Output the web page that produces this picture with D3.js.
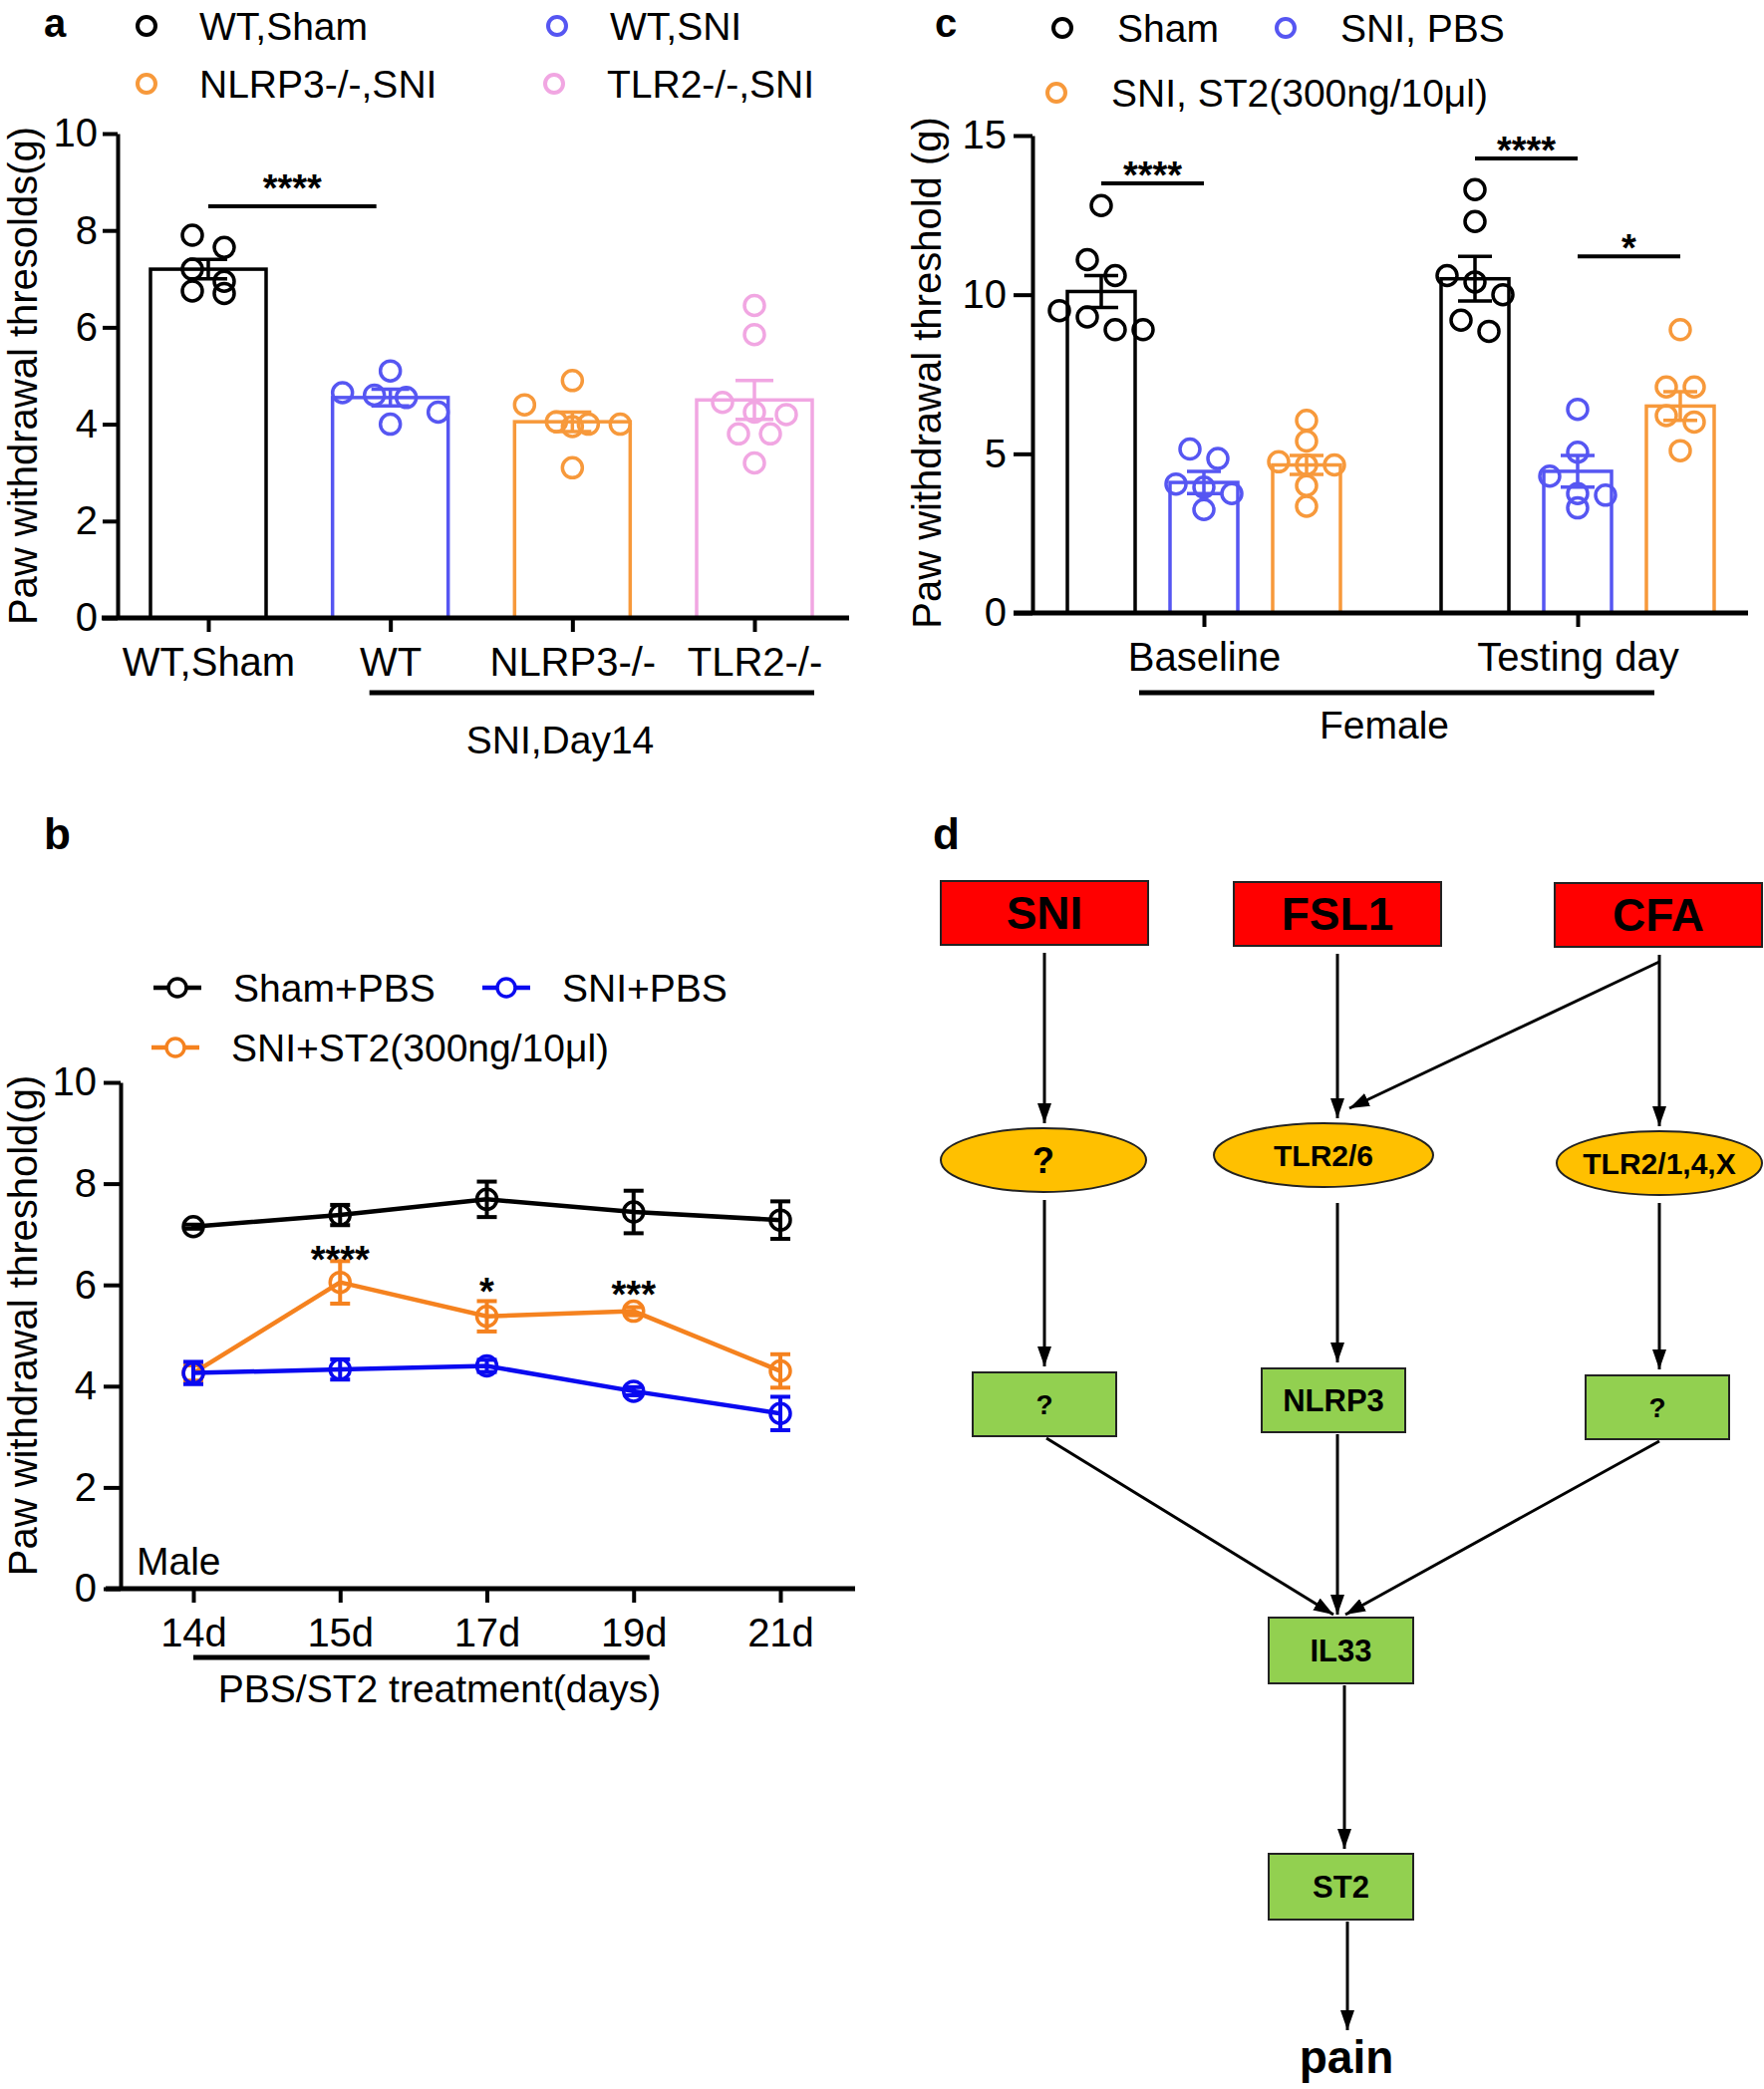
<!DOCTYPE html>
<html><head><meta charset="utf-8">
<script src="https://cdn.jsdelivr.net/npm/d3@7"></script>
<style>body{margin:0;background:#fff} svg{display:block}</style>
</head><body><svg id="fig" width="1770" height="2096"></svg>
<script>
// ---------------- DATA ----------------
// Panel a
const aCategories = ["WT,Sham","WT","NLRP3-/-","TLR2-/-"];
const aLegend = ["WT,Sham","WT,SNI","NLRP3-/-,SNI","TLR2-/-,SNI"];
const aMeans = [7.2, 4.55, 4.05, 4.5];
const aSEM = [0.2, 0.17, 0.2, 0.4];
const aPoints = [
  [7.9, 7.65, 7.2, 6.7, 6.95, 6.75],
  [5.1, 4.55, 4.65, 4.6, 4.0, 4.25],
  [4.9, 4.05, 4.0, 4.0, 4.4, 3.95, 3.1],
  [6.45, 5.85, 4.45, 4.25, 4.2, 3.8, 3.8, 3.2]
];
const aYTicks = [0, 2, 4, 6, 8, 10];
const aSig = [{from: "WT,Sham", to: "WT", level: 8.5, label: "****"}];

// Panel b
const bDays = ["14d","15d","17d","19d","21d"];
const bSeries = ["Sham+PBS","SNI+PBS","SNI+ST2(300ng/10μl)"];
const bSham = [7.15, 7.38, 7.69, 7.44, 7.28];
const bShamSEM = [0.04, 0.2, 0.35, 0.42, 0.37];
const bPBS = [4.26, 4.33, 4.4, 3.9, 3.46];
const bPBSSEM = [0.22, 0.2, 0.12, 0.08, 0.33];
const bST2 = [4.26, 6.05, 5.38, 5.48, 4.3];
const bST2SEM = [0.15, 0.42, 0.3, 0.08, 0.33];
const bYTicks = [0, 2, 4, 6, 8, 10];
const bSigLabels = ["", "****", "*", "***", ""];
const bSigLevels = [null, 6.67, 6.04, 5.98, null];

// Panel c
const cGroups = ["Baseline","Testing day"];
const cSeries = ["Sham","SNI, PBS","SNI, ST2(300ng/10μl)"];
const cMeans = [[10.1, 4.1, 4.65], [10.5, 4.45, 6.5]];
const cSEM = [[0.5, 0.35, 0.3], [0.7, 0.5, 0.45]];
const cPoints = [
  [[12.8, 11.1, 10.6, 9.5, 9.3, 8.9, 8.9],
   [5.15, 4.85, 4.05, 3.95, 3.75, 3.25],
   [6.05, 5.4, 4.75, 4.65, 4.65, 4.0, 3.35]],
  [[13.3, 12.3, 10.6, 10.4, 10.0, 9.2, 8.85],
   [6.4, 5.05, 4.3, 3.75, 3.7, 3.3],
   [8.9, 7.1, 7.1, 6.2, 6.0, 5.1]]
];
const cYTicks = [0, 5, 10, 15];
const cSig = [
  {group: "Baseline", from: "Sham", to: "SNI, PBS", level: 13.5, label: "****"},
  {group: "Testing day", from: "Sham", to: "SNI, PBS", level: 14.28, label: "****"},
  {group: "Testing day", from: "SNI, PBS", to: "SNI, ST2(300ng/10μl)", level: 11.2, label: "*"}
];

// Panel d
const dSources = ["SNI","FSL1","CFA"];
const dReceptors = ["?","TLR2/6","TLR2/1,4,X"];
const dMediators = ["?","NLRP3","?"];
const dPathway = ["IL33","ST2","pain"];

// ---------------- DRAW ----------------
const FONT = '"Liberation Sans", Arial, Helvetica, sans-serif';
const svg = d3.select("#fig");
svg.append("rect").attr("width",1770).attr("height",2096).attr("fill","#fff");

function txt(g, x, y, s, size, o = {}) {
  return g.append("text").attr("x", x).attr("y", y).text(s)
    .attr("font-size", size).attr("font-family", FONT)
    .attr("font-weight", o.bold ? "bold" : "normal")
    .attr("text-anchor", o.anchor || "start").attr("fill", o.fill || "#000");
}
function styleAxis(g) {
  g.select(".domain").attr("stroke", "#000").attr("stroke-width", 4);
  g.selectAll(".tick line").attr("stroke", "#000").attr("stroke-width", 4);
  g.selectAll(".tick text").attr("font-size", 40).attr("font-family", FONT).attr("fill", "#000");
}
function hline(g, x1, x2, y, w, c = "#000") {
  g.append("line").attr("x1", x1).attr("x2", x2).attr("y1", y).attr("y2", y)
    .attr("stroke", c).attr("stroke-width", w);
}
function vline(g, x, y1, y2, w, c = "#000") {
  g.append("line").attr("x1", x).attr("x2", x).attr("y1", y1).attr("y2", y2)
    .attr("stroke", c).attr("stroke-width", w);
}
function ytitle(g, x, y, s) {
  g.append("text").attr("transform", `translate(${x},${y}) rotate(-90)`)
    .attr("text-anchor", "middle").attr("font-size", 40).attr("font-family", FONT).text(s);
}
// scatter layout (GraphPad-like): points with close values are spread symmetrically
function swarm(values, yS, tol, step) {
  const idx = values.map((v, i) => i).sort((a, b) => values[b] - values[a]);
  const out = new Array(values.length).fill(0);
  let cluster = [];
  const flush = () => {
    const n = cluster.length;
    cluster.forEach((i, j) => out[i] = (j - (n - 1) / 2) * step);
    cluster = [];
  };
  idx.forEach(i => {
    if (cluster.length && Math.abs(yS(values[i]) - yS(values[cluster[0]])) > tol) flush();
    cluster.push(i);
  });
  flush();
  return out;
}

// ===== Panel a =====
{
  const g = svg.append("g");
  const colors = ["#000000", "#5656f2", "#f7993b", "#f1a6e2"];
  const y = d3.scaleLinear().domain([0, 10]).range([620, 134]);
  const x = d3.scalePoint().domain(aCategories).range([209, 757]);
  const bw = 116;
  txt(g, 44, 37, "a", 40, {bold: true});
  const legPos = [[147, 26], [559, 26], [147, 84], [556, 84]];
  aLegend.forEach((l, i) => {
    g.append("circle").attr("cx", legPos[i][0]).attr("cy", legPos[i][1]).attr("r", 9)
      .attr("fill", "none").attr("stroke", colors[i]).attr("stroke-width", 4);
    txt(g, legPos[i][0] + 53, legPos[i][1] + 14, l, 39);
  });
  aCategories.forEach((c, i) => {
    g.append("rect").attr("x", x(c) - bw / 2).attr("y", y(aMeans[i]))
      .attr("width", bw).attr("height", y(0) - y(aMeans[i]))
      .attr("fill", "none").attr("stroke", colors[i]).attr("stroke-width", 3.5);
    const offs = swarm(aPoints[i], y, 20, 32);
    aPoints[i].forEach((v, j) => {
      g.append("circle").attr("cx", x(c) + offs[j]).attr("cy", y(v)).attr("r", 10)
        .attr("fill", "none").attr("stroke", colors[i]).attr("stroke-width", 3.5);
    });
    vline(g, x(c), y(aMeans[i] - aSEM[i]), y(aMeans[i] + aSEM[i]), 3.5, colors[i]);
    hline(g, x(c) - 19, x(c) + 19, y(aMeans[i] + aSEM[i]), 3.5, colors[i]);
    hline(g, x(c) - 19, x(c) + 19, y(aMeans[i] - aSEM[i]), 3.5, colors[i]);
  });
  g.append("g").attr("transform", "translate(118,0)")
    .call(d3.axisLeft(y).tickValues(aYTicks).tickSize(15).tickPadding(5).tickSizeOuter(0)).call(styleAxis);
  const xa = g.append("g").attr("transform", "translate(0,620)")
    .call(d3.axisBottom(x).tickSize(14).tickPadding(16).tickSizeOuter(0)).call(styleAxis);
  xa.select(".domain").remove();
  hline(g, 102, 852, 620, 5);
  ytitle(g, 37, 377, "Paw withdrawal thresolds(g)");
  aSig.forEach(s => {
    const yy = y(s.level);
    hline(g, x(s.from), x(s.to) - 14, yy, 4);
    txt(g, (x(s.from) + x(s.to) - 14) / 2, yy - 5, s.label, 38, {bold: true, anchor: "middle"});
  });
  hline(g, x("WT") - 21, x("TLR2-/-") + 60, 695, 5);
  txt(g, 562, 756, "SNI,Day14", 39, {anchor: "middle"});
}

// ===== Panel b =====
{
  const g = svg.append("g");
  const colors = ["#000000", "#0a0af0", "#f5821f"];
  const y = d3.scaleLinear().domain([0, 10]).range([1594, 1086]);
  const x = d3.scalePoint().domain(bDays).range([194, 783]);
  txt(g, 44, 852, "b", 44, {bold: true});
  const legPos = [[154, 991], [484, 991], [152, 1051]];
  bSeries.forEach((l, i) => {
    hline(g, legPos[i][0], legPos[i][0] + 48, legPos[i][1], 4.5, colors[i]);
    g.append("circle").attr("cx", legPos[i][0] + 24).attr("cy", legPos[i][1]).attr("r", 9)
      .attr("fill", "#fff").attr("stroke", colors[i]).attr("stroke-width", 3.5);
    txt(g, legPos[i][0] + 80, legPos[i][1] + 14, l, 39);
  });
  g.append("g").attr("transform", "translate(121,0)")
    .call(d3.axisLeft(y).tickValues(bYTicks).tickSize(17).tickPadding(7).tickSizeOuter(0)).call(styleAxis);
  const xa = g.append("g").attr("transform", "translate(0,1594)")
    .call(d3.axisBottom(x).tickSize(14).tickPadding(16).tickSizeOuter(0)).call(styleAxis);
  xa.select(".domain").remove();
  hline(g, 106, 858, 1594, 5);
  ytitle(g, 37, 1330, "Paw withdrawal threshold(g)");
  txt(g, 137, 1580, "Male", 39);
  const series = [[bSham, bShamSEM, 0], [bST2, bST2SEM, 2], [bPBS, bPBSSEM, 1]];
  const line = d3.line().x((d, i) => x(bDays[i])).y(d => y(d));
  series.forEach(([vals, sem, ci]) => {
    g.append("path").attr("d", line(vals)).attr("fill", "none")
      .attr("stroke", colors[ci]).attr("stroke-width", 4.5);
    vals.forEach((v, i) => {
      const cx = x(bDays[i]);
      vline(g, cx, y(v - sem[i]), y(v + sem[i]), 4, colors[ci]);
      hline(g, cx - 10, cx + 10, y(v + sem[i]), 4, colors[ci]);
      hline(g, cx - 10, cx + 10, y(v - sem[i]), 4, colors[ci]);
      g.append("circle").attr("cx", cx).attr("cy", y(v)).attr("r", 10)
        .attr("fill", "none").attr("stroke", colors[ci]).attr("stroke-width", 3.5);
    });
  });
  bSigLabels.forEach((s, i) => {
    if (s) txt(g, x(bDays[i]), y(bSigLevels[i]) + 22, s, 38, {bold: true, anchor: "middle"});
  });
  hline(g, x("14d"), x("19d") + 16, 1663, 5);
  txt(g, 441, 1708, "PBS/ST2 treatment(days)", 39, {anchor: "middle"});
}

// ===== Panel c =====
{
  const g = svg.append("g");
  const colors = ["#000000", "#5656f2", "#f7993b"];
  const y = d3.scaleLinear().domain([0, 15]).range([615, 136]);
  const xg = d3.scalePoint().domain(cGroups).range([1208, 1583]);
  const xi = d3.scalePoint().domain(cSeries).range([-103, 103]);
  const bw = 68;
  txt(g, 938, 37, "c", 40, {bold: true});
  const legPos = [[1066, 28], [1290, 28], [1060, 93]];
  cSeries.forEach((l, i) => {
    g.append("circle").attr("cx", legPos[i][0]).attr("cy", legPos[i][1]).attr("r", 9)
      .attr("fill", "none").attr("stroke", colors[i]).attr("stroke-width", 4);
    txt(g, legPos[i][0] + 55, legPos[i][1] + 14, l, 39);
  });
  cGroups.forEach((gr, gi) => {
    cSeries.forEach((s, si) => {
      const cx = xg(gr) + xi(s);
      const m = cMeans[gi][si], e = cSEM[gi][si];
      g.append("rect").attr("x", cx - bw / 2).attr("y", y(m)).attr("width", bw)
        .attr("height", y(0) - y(m)).attr("fill", "none")
        .attr("stroke", colors[si]).attr("stroke-width", 3.5);
      const pts = cPoints[gi][si];
      const offs = swarm(pts, y, 20, 28);
      pts.forEach((v, j) => {
        g.append("circle").attr("cx", cx + offs[j]).attr("cy", y(v)).attr("r", 10)
          .attr("fill", "none").attr("stroke", colors[si]).attr("stroke-width", 3.5);
      });
      vline(g, cx, y(m - e), y(m + e), 3.5, colors[si]);
      hline(g, cx - 17, cx + 17, y(m + e), 3.5, colors[si]);
      hline(g, cx - 17, cx + 17, y(m - e), 3.5, colors[si]);
    });
  });
  g.append("g").attr("transform", "translate(1036,0)")
    .call(d3.axisLeft(y).tickValues(cYTicks).tickSize(19).tickPadding(7).tickSizeOuter(0)).call(styleAxis);
  const xa = g.append("g").attr("transform", "translate(0,615)")
    .call(d3.axisBottom(xg).tickSize(14).tickPadding(16).tickSizeOuter(0)).call(styleAxis);
  xa.select(".domain").remove();
  hline(g, 1017, 1754, 615, 5);
  ytitle(g, 944, 374, "Paw withdrawal threshold (g)");
  cSig.forEach(s => {
    const x1 = xg(s.group) + xi(s.from), x2 = xg(s.group) + xi(s.to);
    const yy = y(s.level);
    hline(g, x1, x2, yy, 4);
    txt(g, (x1 + x2) / 2, yy + 5, s.label, 38, {bold: true, anchor: "middle"});
  });
  hline(g, 1143, 1660, 695, 5);
  txt(g, 1389, 741, "Female", 39, {anchor: "middle"});
}

// ===== Panel d =====
{
  const g = svg.append("g");
  txt(g, 936, 852, "d", 44, {bold: true});
  svg.append("defs").append("marker").attr("id", "arr")
    .attr("viewBox", "0 0 20 14").attr("refX", 20).attr("refY", 7)
    .attr("markerWidth", 20).attr("markerHeight", 14).attr("markerUnits", "userSpaceOnUse")
    .attr("orient", "auto")
    .append("path").attr("d", "M0,0 L20,7 L0,14 Z").attr("fill", "#000");
  const arrow = (x1, y1, x2, y2) => g.append("line").attr("x1", x1).attr("y1", y1)
    .attr("x2", x2).attr("y2", y2).attr("stroke", "#000").attr("stroke-width", 3)
    .attr("marker-end", "url(#arr)");

  const srcBoxes = [{x: 944, y: 884}, {x: 1238, y: 885}, {x: 1560, y: 886}];
  const srcW = 208, srcH = 64;
  const ells = [{cx: 1047, cy: 1164, rx: 103}, {cx: 1328, cy: 1159, rx: 110}, {cx: 1665, cy: 1167, rx: 103}];
  const ery = 32;
  const medBoxes = [{x: 976, y: 1377}, {x: 1266, y: 1373}, {x: 1591, y: 1380}];
  const medW = 144, medH = 64;
  const pathBoxes = [{x: 1273, y: 1623}, {x: 1273, y: 1860}];
  const pathW = 145, pathH = 66;

  const colX = [1048, 1342, 1665];
  colX.forEach((cx, i) => {
    arrow(cx, srcBoxes[i].y + srcH + 8, cx, ells[i].cy - ery - 5);
    arrow(cx, ells[i].cy + ery + 8 + (i === 1 ? 8 : 0), cx, medBoxes[i].y - 6);
  });
  arrow(1665, 965, 1354, 1112);
  arrow(1050, 1443, 1338, 1620);
  arrow(1342, medBoxes[1].y + medH + 2, 1342, 1620);
  arrow(1665, 1446, 1350, 1620);
  arrow(1349, pathBoxes[0].y + pathH + 2, 1349, pathBoxes[1].y - 5);
  arrow(1352, pathBoxes[1].y + pathH + 2, 1352, 2037);

  dSources.forEach((s, i) => {
    g.append("rect").attr("x", srcBoxes[i].x).attr("y", srcBoxes[i].y).attr("width", srcW).attr("height", srcH)
      .attr("fill", "#ff0000").attr("stroke", "#222").attr("stroke-width", 2);
    txt(g, srcBoxes[i].x + srcW / 2, srcBoxes[i].y + srcH / 2 + 16, s, 46, {bold: true, anchor: "middle"});
  });
  dReceptors.forEach((s, i) => {
    g.append("ellipse").attr("cx", ells[i].cx).attr("cy", ells[i].cy).attr("rx", ells[i].rx).attr("ry", ery)
      .attr("fill", "#ffc000").attr("stroke", "#222").attr("stroke-width", 2);
    const fs = s === "?" ? 36 : 30;
    txt(g, ells[i].cx, ells[i].cy + fs * 0.36, s, fs, {bold: true, anchor: "middle"});
  });
  dMediators.forEach((s, i) => {
    g.append("rect").attr("x", medBoxes[i].x).attr("y", medBoxes[i].y).attr("width", medW).attr("height", medH)
      .attr("fill", "#92d050").attr("stroke", "#222").attr("stroke-width", 2);
    const fs = s === "?" ? 28 : 31;
    txt(g, medBoxes[i].x + medW / 2, medBoxes[i].y + medH / 2 + fs * 0.36, s, fs, {bold: true, anchor: "middle"});
  });
  pathBoxes.forEach((b, i) => {
    g.append("rect").attr("x", b.x).attr("y", b.y).attr("width", pathW).attr("height", pathH)
      .attr("fill", "#92d050").attr("stroke", "#222").attr("stroke-width", 2);
    txt(g, b.x + pathW / 2, b.y + pathH / 2 + 11, dPathway[i], 31, {bold: true, anchor: "middle"});
  });
  txt(g, 1351, 2080, dPathway[2], 46, {bold: true, anchor: "middle"});
}
</script></body></html>
